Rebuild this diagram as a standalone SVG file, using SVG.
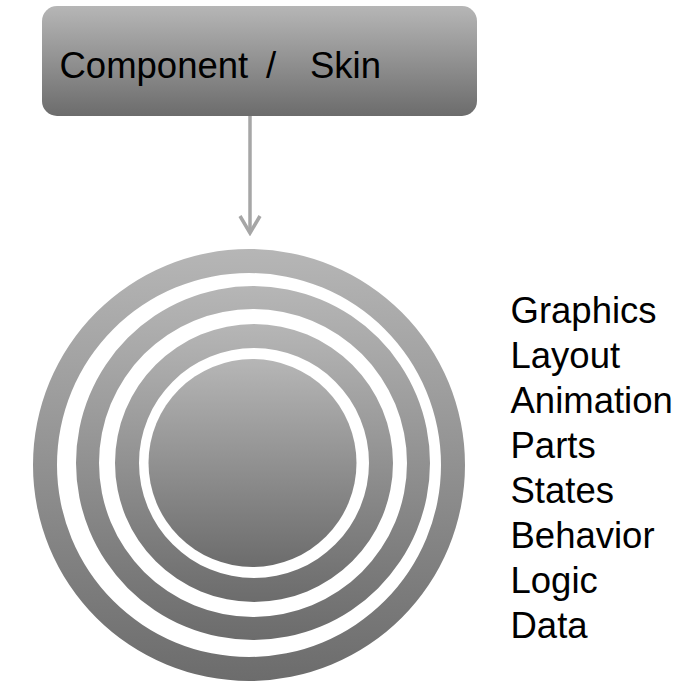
<svg xmlns="http://www.w3.org/2000/svg" width="678" height="681" viewBox="0 0 678 681">
  <style>
    .lbl { font-family: "Liberation Sans", Arial, sans-serif; font-size: 36.5px; fill: #000; }
    .conn { stroke: #a6a6a6; stroke-width: 3.5; fill: none; }
  </style>
  <defs>
    <linearGradient id="g" x1="0" y1="0" x2="0" y2="1">
      <stop offset="0" stop-color="#b6b6b6"/>
      <stop offset="1" stop-color="#6c6c6c"/>
    </linearGradient>
    <marker id="chev" markerWidth="22" markerHeight="24" viewBox="0 0 22 24" refX="19" refY="12" orient="auto" markerUnits="userSpaceOnUse">
      <polyline points="2,2 19,12 2,22" fill="none" stroke="#a6a6a6" stroke-width="3.5" stroke-linejoin="miter"/>
    </marker>
  </defs>
  <rect width="678" height="681" fill="#fff"/>

  <g id="component-skin">
    <rect x="42" y="6" width="435" height="110" rx="15" fill="url(#g)"/>
    <text class="lbl" y="78"><tspan x="59.5">Component</tspan><tspan x="266">/</tspan><tspan x="310">Skin</tspan></text>
  </g>

  <g id="connectors">
    <line class="conn" x1="250" y1="116" x2="250" y2="233" marker-end="url(#chev)"/>
  </g>

  <g id="layers">
    <path fill="url(#g)" fill-rule="evenodd" d="M33 465a216 216 0 1 0 432 0a216 216 0 1 0 -432 0Z M57 465a192 192 0 1 0 384 0a192 192 0 1 0 -384 0Z"/>
    <path fill="url(#g)" fill-rule="evenodd" d="M76 463a177 177 0 1 0 354 0a177 177 0 1 0 -354 0Z M99 463a154 154 0 1 0 308 0a154 154 0 1 0 -308 0Z"/>
    <path fill="url(#g)" fill-rule="evenodd" d="M115 463a139 139 0 1 0 278 0a139 139 0 1 0 -278 0Z M139 463a115 115 0 1 0 230 0a115 115 0 1 0 -230 0Z"/>
    <circle cx="252.5" cy="463" r="104" fill="url(#g)"/>
  </g>

  <g id="layer-list">
    <text class="lbl" x="510.5" y="323">Graphics</text>
    <text class="lbl" x="510.5" y="368">Layout</text>
    <text class="lbl" x="510.5" y="413">Animation</text>
    <text class="lbl" x="510.5" y="458">Parts</text>
    <text class="lbl" x="510.5" y="503">States</text>
    <text class="lbl" x="510.5" y="548">Behavior</text>
    <text class="lbl" x="510.5" y="593">Logic</text>
    <text class="lbl" x="510.5" y="638">Data</text>
  </g>
</svg>
